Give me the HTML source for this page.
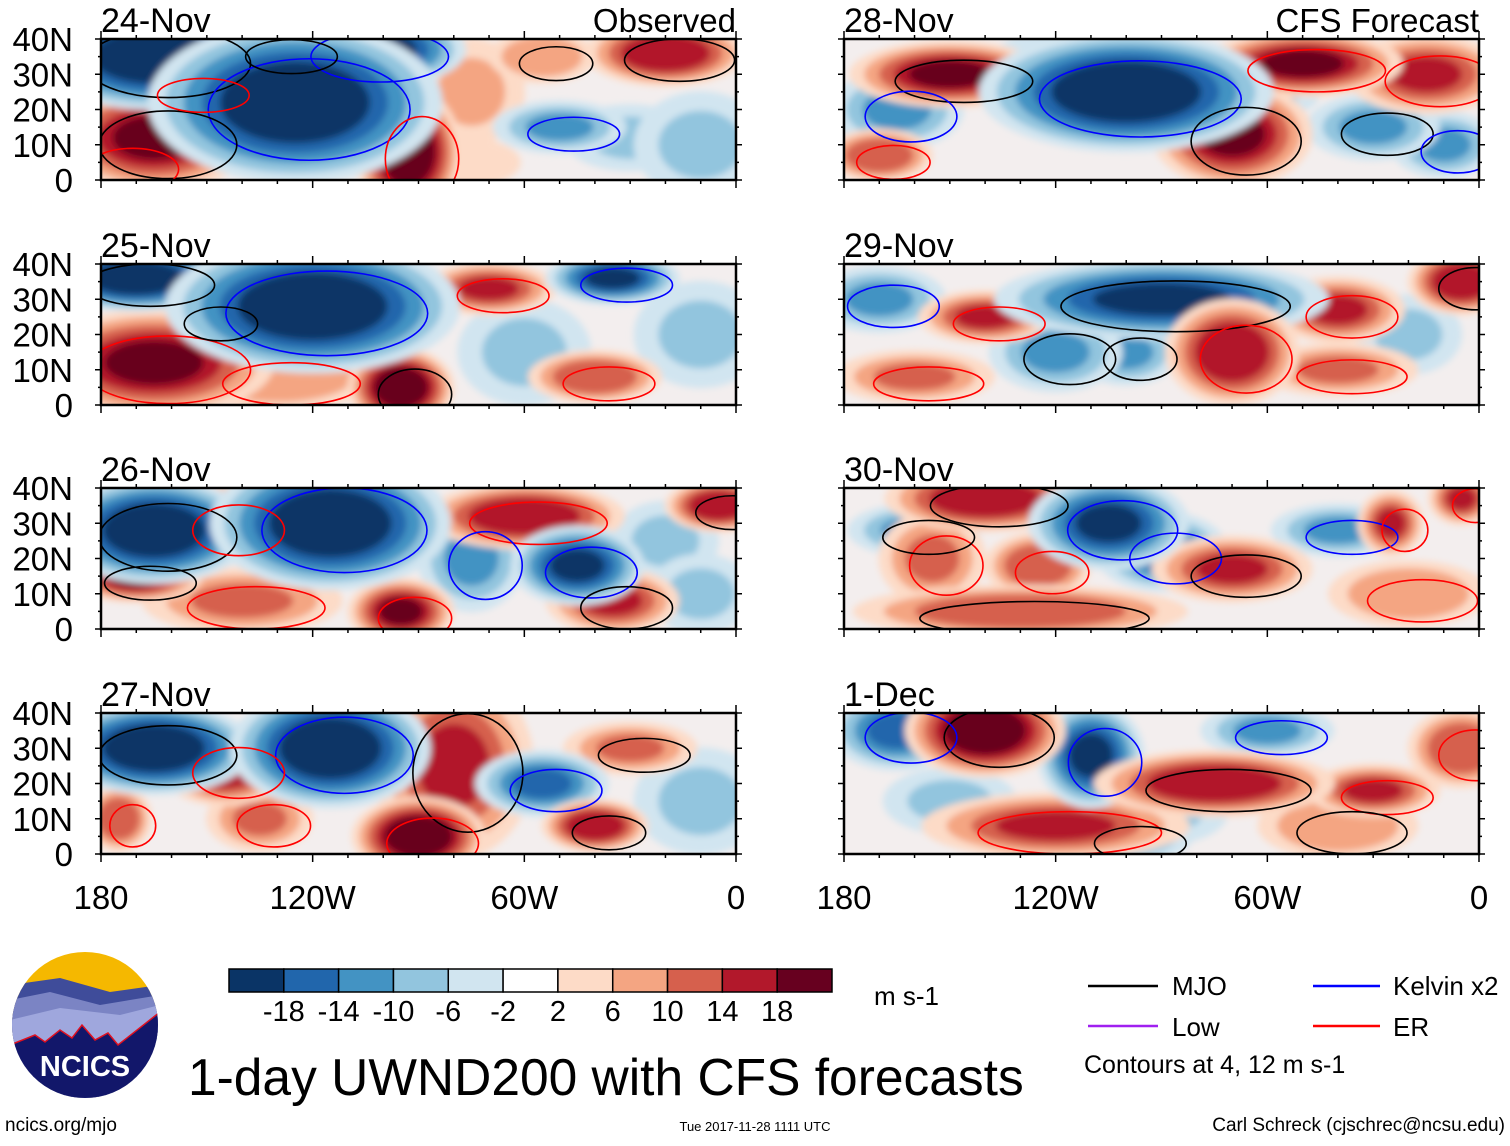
<!DOCTYPE html>
<html><head><meta charset="utf-8">
<style>
html,body{margin:0;padding:0;background:#fff;}
body{width:1510px;height:1141px;overflow:hidden;font-family:"Liberation Sans",sans-serif;}
svg text{font-family:"Liberation Sans",sans-serif;}
</style></head>
<body>
<svg id="chart" width="1510" height="1141" viewBox="0 0 1510 1141" xmlns="http://www.w3.org/2000/svg">
<defs>
<filter id="blur" x="-30%" y="-30%" width="160%" height="160%"><feGaussianBlur stdDeviation="3.5"/></filter>
</defs>
<g id="panels"></g>
<g id="colorbar"></g>
<text x="874" y="1005" font-size="26">m s-1</text>
<text x="188" y="1095" font-size="51.5">1-day UWND200 with CFS forecasts</text>
<g>
<line x1="1088" y1="986" x2="1158" y2="986" stroke="#000" stroke-width="2.5"/>
<text x="1172" y="995" font-size="26">MJO</text>
<line x1="1313" y1="986" x2="1380" y2="986" stroke="#0000ff" stroke-width="2.5"/>
<text x="1393" y="995" font-size="26">Kelvin x2</text>
<line x1="1088" y1="1026" x2="1158" y2="1026" stroke="#a020f0" stroke-width="2.5"/>
<text x="1172" y="1036" font-size="26">Low</text>
<line x1="1313" y1="1026" x2="1380" y2="1026" stroke="#ff0000" stroke-width="2.5"/>
<text x="1393" y="1036" font-size="26">ER</text>
<text x="1084" y="1073" font-size="25">Contours at 4, 12 m s-1</text>
</g>
<g>
<clipPath id="logoclip"><circle cx="85" cy="1025" r="73"/></clipPath>
<g clip-path="url(#logoclip)">
<rect x="10" y="950" width="150" height="150" fill="#f5b800"/>
<path d="M10 985 L60 978 L110 992 L160 985 L160 1100 L10 1100Z" fill="#3f4c9a"/>
<path d="M10 1000 L50 992 L100 1005 L160 995 L160 1100 L10 1100Z" fill="#7b84c4"/>
<path d="M10 1020 L60 1008 L120 1015 L160 1005 L160 1100 L10 1100Z" fill="#9fa7dd"/>
<path d="M10 1045 L35 1035 L45 1042 L60 1030 L72 1038 L82 1025 L95 1040 L108 1033 L118 1045 L160 1012 L160 1100 L10 1100Z" fill="#12176a" stroke="#e01020" stroke-width="1.5"/>
</g>
<text x="85" y="1076" font-size="29" font-weight="bold" fill="#fff" text-anchor="middle">NCICS</text>
</g>
<text x="5" y="1131" font-size="19">ncics.org/mjo</text>
<text x="755" y="1131" font-size="13" text-anchor="middle">Tue 2017-11-28 1111 UTC</text>
<text x="1505" y="1131" font-size="19" text-anchor="end">Carl Schreck (cjschrec@ncsu.edu)</text>
</svg>
<script>
// ---- data ----
const panelDates = ["24-Nov","25-Nov","26-Nov","27-Nov","28-Nov","29-Nov","30-Nov","1-Dec"];
const colorLevels = [-18,-14,-10,-6,-2,2,6,10,14,18];
const colorLabels = ["-18","-14","-10","-6","-2","2","6","10","14","18"];
const latTicks = [40,30,20,10,0];
const latLabels = ["40N","30N","20N","10N","0"];
const lonTicks = [-180,-120,-60,0];
const lonLabels = ["180","120W","60W","0"];
// blobs: [lon, lat, lonRadius, latRadius, uwnd]
const blobs0 = [[-165,35,18,8,-22],[-125,22,22,12,-24],[-105,37,15,6,-22],[-165,12,15,8,20],[-175,5,10,5,12],[-93,8,8,10,22],[-130,37,10,4,16],[-75,25,8,8,8],[-50,15,10,4,-12],[-20,36,12,5,18],[-30,12,10,5,-8],[-10,10,10,8,-8],[-55,35,8,4,10],[-80,5,10,4,6],[-155,26,10,4,14]];
const blobs1 = [[-170,36,14,5,-22],[-120,28,22,10,-24],[-165,12,18,8,20],[-95,5,8,6,22],[-70,33,10,4,16],[-35,36,10,4,-18],[-150,25,8,4,-12],[-40,8,10,4,14],[-10,20,10,8,-8],[-60,15,10,8,-6],[-130,8,15,5,10]];
const blobs2 = [[-165,28,15,8,-22],[-115,30,18,10,-24],[-145,30,10,6,20],[-170,15,10,4,20],[-60,32,15,5,18],[-45,18,10,6,-18],[-35,8,10,5,16],[-95,5,8,5,20],[-140,8,15,5,12],[-5,35,8,4,18],[-20,25,8,6,-8],[-75,20,8,8,-10],[-10,10,8,6,-8]];
const blobs3 = [[-165,30,15,7,-22],[-115,30,15,9,-24],[-145,25,10,6,18],[-80,25,12,14,16],[-90,5,10,6,22],[-55,20,10,5,-16],[-40,8,8,4,18],[-135,10,8,5,12],[-10,15,10,8,-8],[-30,30,10,4,12],[-175,10,5,5,14]];
const blobs4 = [[-150,30,15,5,20],[-100,25,22,9,-22],[-165,20,10,6,-12],[-70,13,12,8,20],[-50,33,15,5,20],[-15,30,12,6,16],[-30,15,10,5,-12],[-170,7,8,4,14],[-120,33,10,5,-8],[-60,25,8,4,-8],[-10,10,8,5,-10]];
const blobs5 = [[-90,30,25,6,-18],[-70,15,10,8,18],[-140,25,10,4,16],[-120,15,10,6,-12],[-170,30,10,5,-10],[-40,27,10,5,16],[-5,35,8,5,18],[-160,8,12,4,12],[-40,10,12,4,12],[-100,15,8,5,-10],[-20,20,8,6,-8]];
const blobs6 = [[-140,37,15,5,18],[-105,30,12,7,-20],[-90,22,10,6,-16],[-70,17,12,5,16],[-155,20,8,7,12],[-125,18,8,5,14],[-130,5,25,4,14],[-40,28,10,4,-10],[-25,30,5,5,16],[-160,28,10,4,-10],[-20,10,12,5,10],[-5,37,5,4,16]];
const blobs7 = [[-140,35,12,7,22],[-165,35,10,6,-14],[-110,28,8,8,-18],[-75,20,18,5,18],[-30,18,10,4,16],[-120,8,20,5,16],[-100,5,10,4,-12],[-60,35,10,4,-12],[-5,30,8,6,14],[-40,8,12,5,10],[-90,12,10,5,-8],[-150,15,10,5,-8]];
const allBlobs = [blobs0,blobs1,blobs2,blobs3,blobs4,blobs5,blobs6,blobs7];
const colors = ["#0a3466","#2166ac","#4393c3","#92c5de","#d1e5f0","#ffffff","#fddbc7","#f4a582","#d6604d","#b2182b","#67001f"];

// ---- layout ----
const NS="http://www.w3.org/2000/svg";
const panelX=[101,844], panelTop=[39,264,488,713], PW=635, PH=141;
function mk(tag,attrs,parent){const e=document.createElementNS(NS,tag);for(const k in attrs)e.setAttribute(k,attrs[k]);parent.appendChild(e);return e;}
function colorFor(v){let i=0;while(i<colorLevels.length&&v>colorLevels[i])i++;return colors[i];}
const panelsG=document.getElementById('panels');

allBlobs.forEach((blobs,p)=>{
  const col=p<4?0:1,row=p%4;
  const x0=panelX[col],y0=panelTop[row];
  const xs=lon=>x0+(lon+180)/180*PW;
  const ys=lat=>y0+(40-lat)/40*PH;
  const g=mk('g',{},panelsG);
  
  
  const cp=mk('clipPath',{id:'clip'+p},g);
  mk('rect',{x:x0,y:y0,width:PW,height:PH},cp);
  const inner=mk('g',{'clip-path':'url(#clip'+p+')'},g);
  mk('rect',{x:x0,y:y0,width:PW,height:PH,fill:'#f3eeee'},inner);
  const fg=mk('g',{filter:'url(#blur)'},inner);
  // sort so larger-magnitude blobs are painted last
  const sorted=blobs.slice().sort((a,b)=>Math.abs(a[4])-Math.abs(b[4]));
  sorted.forEach(b=>{
    const [lon,lat,rl,rt,v]=b;
    const steps=Math.max(1,Math.ceil(Math.abs(v)/4));
    for(let s=1;s<=steps;s++){
      const f=1.9-(s-1)/steps*1.4;
      const vv=Math.sign(v)*Math.min(Math.abs(v),s*4+0.5);
      const e=mk('ellipse',{cx:xs(lon),cy:ys(lat),rx:rl/180*PW*f,ry:rt/40*PH*f,fill:colorFor(vv)},fg);
      
      
    }
  });
  // contour outlines
  blobs.forEach((b,i)=>{
    const [lon,lat,rl,rt,v]=b;
    if(Math.abs(v)<10)return;
    const stroke=i%3===0?'#000':(v<0?'#0000ff':'#ff0000');
    const c=mk('ellipse',{cx:xs(lon+4),cy:ys(lat-2),rx:rl/180*PW*1.3,ry:rt/40*PH*1.2,fill:'none',stroke:stroke,'stroke-width':1.6},inner);
    
    
  });
  // frame
  const fr=mk('rect',{x:x0,y:y0,width:PW,height:PH,fill:'none',stroke:'#000','stroke-width':2.5},g);
  
  
  for(let lon=-180;lon<=0;lon+=10){
    const L=(lon%60===0)?8:4;
    mk('line',{x1:xs(lon),y1:y0,x2:xs(lon),y2:y0-L,stroke:'#000','stroke-width':1.5},g);
    mk('line',{x1:xs(lon),y1:y0+PH,x2:xs(lon),y2:y0+PH+L,stroke:'#000','stroke-width':1.5},g);
  }
  for(let lat=0;lat<=40;lat+=5){
    const L=(lat%10===0)?6:3;
    mk('line',{x1:x0,y1:ys(lat),x2:x0-L,y2:ys(lat),stroke:'#000','stroke-width':1.5},g);
    mk('line',{x1:x0+PW,y1:ys(lat),x2:x0+PW+L,y2:ys(lat),stroke:'#000','stroke-width':1.5},g);
  }
  const t=mk('text',{x:x0,y:y0-7,'font-size':34},g);
  t.textContent=panelDates[p];
  
  
  if(row===0){
    const t2=mk('text',{x:x0+PW,y:y0-7,'font-size':33,'text-anchor':'end'},g);
    t2.textContent=col===0?'Observed':'CFS Forecast';
    
    
  }
  if(col===0){
    latTicks.forEach((lat,i)=>{
      const yl=mk('text',{x:73,y:ys(lat)+12,'font-size':33,'text-anchor':'end'},g);
      yl.textContent=latLabels[i];
      
      
    });
  }
  if(row===3){
    lonTicks.forEach((lon,i)=>{
      const xl=mk('text',{x:xs(lon),y:909,'font-size':33,'text-anchor':'middle'},g);
      xl.textContent=lonLabels[i];
      
      
    });
  }
});

// colorbar
const cb=document.getElementById('colorbar');


const cbx=229,cby=969,cbw=603,cbh=23,bw=cbw/colors.length;
colors.forEach((c,i)=>{
  const r=mk('rect',{x:cbx+i*bw,y:cby,width:bw,height:cbh,fill:c,stroke:'#000','stroke-width':1.5},cb);
  
  
});
colorLabels.forEach((l,i)=>{
  const t=mk('text',{x:cbx+(i+1)*bw,y:1021,'font-size':29,'text-anchor':'middle'},cb);
  t.textContent=l;
  
  
});
</script>
</body></html>
